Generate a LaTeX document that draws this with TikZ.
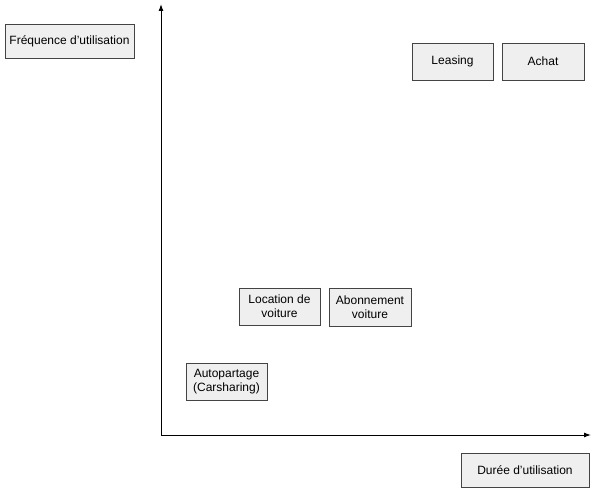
\documentclass[tikz,border=0pt]{standalone}
\usepackage{fontspec}
\setmainfont{Liberation Sans}
\usetikzlibrary{arrows.meta}
\definecolor{boxfill}{HTML}{EEEFEE}
\definecolor{boxline}{HTML}{444444}
\begin{document}
\begin{tikzpicture}[x=1pt,y=-1pt,
  lbl/.style={draw=boxline,line width=0.9pt,fill=boxfill,inner sep=0pt,align=center,
    font=\fontsize{12}{14}\selectfont},
  axis/.style={line width=1pt,black,-{Latex[length=7pt,width=5pt]}}]
\useasboundingbox (0,0) rectangle (600,497);
\node[lbl,minimum width=129pt,minimum height=34pt] (freq) at (69.5,41) {Fréquence d'utilisation};
\node[lbl,minimum width=81pt,minimum height=37pt] (leasing) at (452.5,61.5) {Leasing};
\node[lbl,minimum width=82pt,minimum height=37pt] (achat) at (543,61.5) {Achat};
\node[lbl,minimum width=81pt,minimum height=37pt] (loc) at (279.5,306.5) {Location de\\voiture};
\node[lbl,minimum width=82pt,minimum height=38pt] (abo) at (370,307) {Abonnement\\voiture};
\node[lbl,minimum width=81pt,minimum height=37pt] (auto) at (226.5,381.5) {Autopartage\\(Carsharing)};
\node[lbl,minimum width=128pt,minimum height=34pt] (duree) at (525,470) {Durée d'utilisation};
\coordinate (o) at (161,435);
\coordinate (ytop) at (161,4);
\coordinate (xend) at (591,435);
\draw[axis] (o) -- (ytop);
\draw[axis] (o) -- (xend);
\end{tikzpicture}
\end{document}
